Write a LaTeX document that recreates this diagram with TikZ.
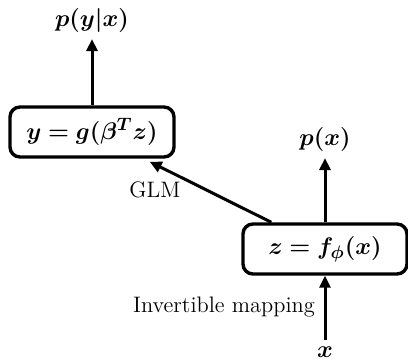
\documentclass[tikz,border=0pt]{standalone}
\usepackage{amsmath,bm}
\usetikzlibrary{arrows.meta}
\begin{document}
\begin{tikzpicture}[x=0.5pt,y=-0.5pt,every node/.style={font=\fontsize{11.2}{13}\selectfont}]
\tikzset{
  mathtext/.style={font=\fontsize{12.2}{14}\selectfont},
  modelbox/.style={mathtext,draw,line width=1.7pt,rounded corners=5pt,minimum width=82pt,minimum height=25pt,inner sep=0pt},
  flow/.style={-{Triangle[length=6pt,width=5.5pt]},line width=1.5pt}
}
\useasboundingbox (0,0) rectangle (408,360);
\node[modelbox] (glm) at (92,132) {$\bm{y=g(\beta^Tz)}$};
\node[modelbox] (flowmap) at (325,249) {$\bm{z=f_\phi(x)}$};
\node[mathtext] (pyx) at (92,20) {$\bm{p(y|x)}$};
\node[mathtext] (px) at (325,139) {$\bm{p(x)}$};
\node[mathtext] (xin) at (325,352) {$\bm{x}$};
\coordinate (glmstart) at ([xshift=15pt]flowmap.north west);
\coordinate (glmend) at ([xshift=-13pt,yshift=-1.5pt]glm.south east);
\draw[flow] (glm) -- (pyx);
\draw[flow] (flowmap) -- (px);
\draw[flow] (xin) -- (flowmap);
\draw[flow] (glmstart) -- (glmend);
\node (glmlabel) at (155,190) {GLM};
\node (invlabel) at (224,307) {Invertible mapping};
\end{tikzpicture}
\end{document}
